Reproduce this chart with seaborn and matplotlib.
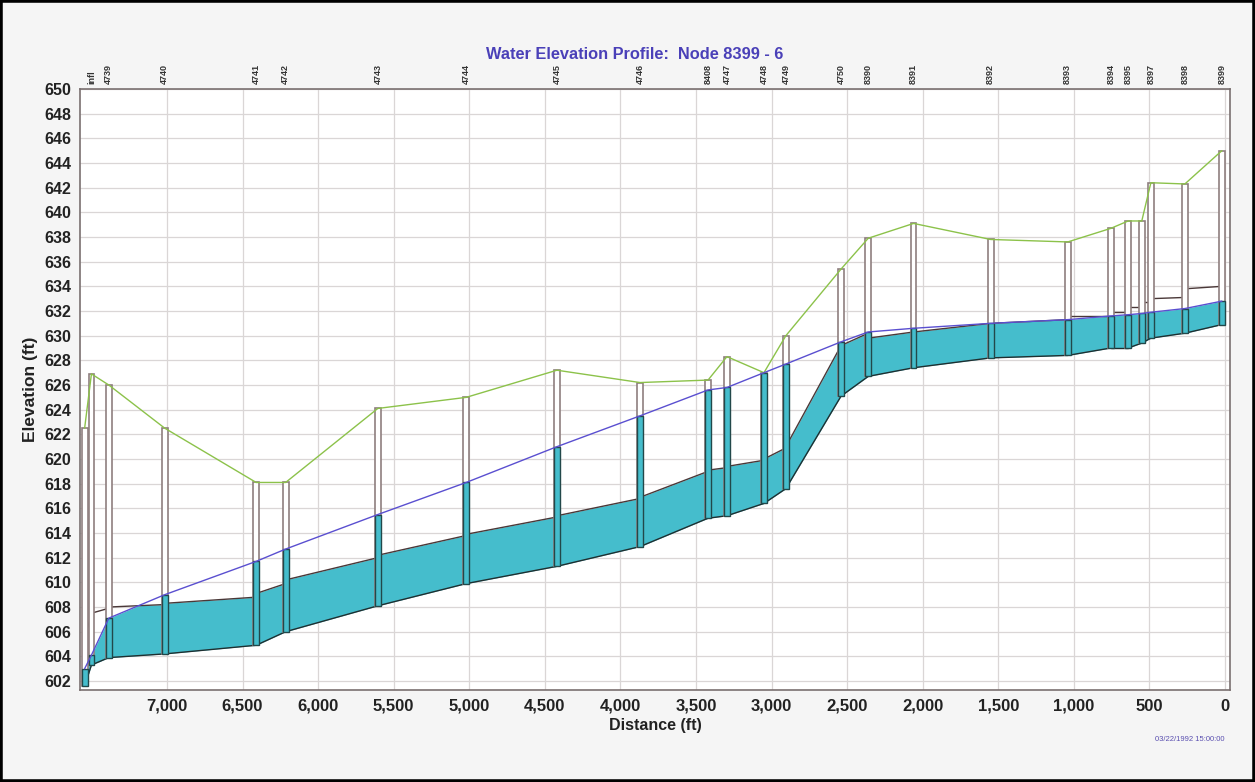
import numpy as np
import pandas as pd
import matplotlib
matplotlib.use("Agg")
import matplotlib.pyplot as plt
from matplotlib.patches import Rectangle
import seaborn as sns

# nodes, left to right (upstream end of the profile is at the right)
node_names = ["6", "infl", "4739", "4740", "4741", "4742", "4743", "4744", "4745", "4746",
              "8408", "4747", "4748", "4749", "4750", "8390", "8391", "8392", "8393",
              "8394", "8395", "8396", "8397", "8398", "8399"]
node_labels = ["", "infl", "4739", "4740", "4741", "4742", "4743", "4744", "4745", "4746",
               "8408", "4747", "4748", "4749", "4750", "8390", "8391", "8392", "8393",
               "8394", "8395", "", "8397", "8398", "8399"]
node_dist = [7545, 7500, 7385, 7015, 6410, 6215, 5605, 5020, 4420, 3870,
             3420, 3295, 3050, 2905, 2540, 2360, 2060, 1550, 1040,
             755, 640, 550, 490, 265, 20]
node_invert = [601.6, 603.3, 603.9, 604.2, 604.9, 606.0, 608.1, 609.9, 611.3, 612.9,
               615.2, 615.4, 616.4, 617.6, 625.1, 626.7, 627.4, 628.2, 628.4,
               629.0, 629.0, 629.4, 629.8, 630.2, 630.9]
node_rim = [622.5, 626.9, 626.0, 622.5, 618.1, 618.1, 624.1, 625.0, 627.2, 626.2,
            626.4, 628.3, 627.0, 630.0, 635.4, 637.9, 639.1, 637.8, 637.6,
            638.7, 639.3, 639.3, 642.4, 642.3, 645.0]
node_hgl = [603.0, 604.1, 607.1, 609.0, 611.7, 612.7, 615.5, 618.1, 621.0, 623.5,
            625.6, 625.8, 627.0, 627.7, 629.5, 630.3, 630.6, 631.0, 631.3,
            631.6, 631.7, 631.8, 631.9, 632.2, 632.8]

# pipe crown at the left and right end of each conduit
crown_left = [605.6, 607.5, 608.0, 608.3, 609.1, 610.2, 612.2, 613.9, 615.4, 616.9,
              619.1, 619.4, 620.0, 621.0, 629.2, 629.8, 630.3, 631.0, 631.6,
              631.9, 632.3, 632.7, 633.0, 633.8]
crown_right = [607.3, 607.9, 608.2, 608.8, 609.9, 612.0, 613.8, 615.3, 616.8, 619.0,
               619.3, 619.9, 620.9, 629.2, 630.2, 630.3, 631.0, 631.3, 631.6,
               631.9, 632.3, 632.7, 633.1, 634.0]

x_ticks = list(range(0, 7001, 500))
y_ticks = list(range(602, 651, 2))

df = pd.DataFrame({"node": node_names, "dist": node_dist, "invert": node_invert,
                   "rim": node_rim, "hgl": node_hgl})

sns.set_theme(style="whitegrid")
plt.rcParams['font.family'] = ['Liberation Sans', 'DejaVu Sans']

water = "#45bdcc"
fig = plt.figure(figsize=(12.55, 7.82), dpi=100, facecolor="#f5f5f5")
ax = fig.add_axes([0.0637, 0.1176, 0.9163, 0.7686])
ax.set_facecolor("white")

# conduits: water, invert and crown lines
for i in range(len(node_dist) - 1):
    t = np.linspace(0, 1, 30)
    xs = node_dist[i] + t * (node_dist[i + 1] - node_dist[i])
    inv = node_invert[i] + t * (node_invert[i + 1] - node_invert[i])
    crown = crown_left[i] + t * (crown_right[i] - crown_left[i])
    hgl = node_hgl[i] + t * (node_hgl[i + 1] - node_hgl[i])
    ax.fill_between(xs, inv, np.minimum(crown, hgl), color=water, lw=0, zorder=2)
    ax.plot(xs[[0, -1]], inv[[0, -1]], color="#1f2f30", lw=1.0, zorder=3)
    ax.plot(xs[[0, -1]], crown[[0, -1]], color="#4a3838", lw=1.0, zorder=3)

# manholes
mh_w = 38
ax.bar(df["dist"], df["rim"] - df["invert"], bottom=df["invert"], width=mh_w,
       color="white", edgecolor="#8f7f7f", linewidth=1.2, zorder=4)
ax.bar(df["dist"], np.minimum(df["hgl"], df["rim"]) - df["invert"], bottom=df["invert"],
       width=mh_w, color=water, edgecolor="#22484a", linewidth=1.0, zorder=5)

# ground and hydraulic grade lines
sns.lineplot(data=df, x="dist", y="rim", sort=False, estimator=None, color="#8cc24a",
             lw=1.0, ax=ax, zorder=6)
sns.lineplot(data=df, x="dist", y="hgl", sort=False, estimator=None, color="#5a4fd0",
             lw=1.0, ax=ax, zorder=6)

ax.set_xlim(7576, -33)
ax.set_ylim(601.27, 650)
ax.set_xticks(x_ticks)
ax.set_xticklabels([f"{v:,}" for v in x_ticks], fontsize=12, fontweight="bold",
                   va="baseline")
ax.set_yticks(y_ticks)
ax.set_yticklabels([str(v) for v in y_ticks], fontsize=11.5, fontweight="bold")
ax.tick_params(length=0, colors="#222222")
ax.tick_params(axis="x", pad=15)
ax.tick_params(axis="y", pad=6)
ax.grid(True, color="#dad6d6", lw=0.9)
for s in ax.spines.values():
    s.set_color("#7a7070")
    s.set_linewidth(1.2)

ax.set_xlabel("Distance (ft)", fontsize=11.5, fontweight="bold", labelpad=3, color="#222222")
ax.set_ylabel("Elevation (ft)", fontsize=12.5, fontweight="bold", labelpad=5, color="#222222")

trans = ax.get_xaxis_transform()
for d, lab in zip(node_dist, node_labels):
    if lab:
        ax.text(d, 1.008, lab, transform=trans, rotation=90, ha="center", va="bottom",
                fontsize=6.5, fontweight="bold", color="#333333")

fig.text(0.5056, 0.93, "Water Elevation Profile:  Node 8399 - 6", ha="center", va="center",
         fontsize=11.8, fontweight="bold", color="#4a40b8")
fig.text(0.948, 0.054, "03/22/1992 15:00:00", ha="center", va="center", fontsize=5.5,
         color="#5a4fb0")
fig.add_artist(Rectangle((0, 0), 1, 1, transform=fig.transFigure, fill=False,
                         edgecolor="black", lw=4))

fig.savefig("out.png", dpi=100, facecolor=fig.get_facecolor())
